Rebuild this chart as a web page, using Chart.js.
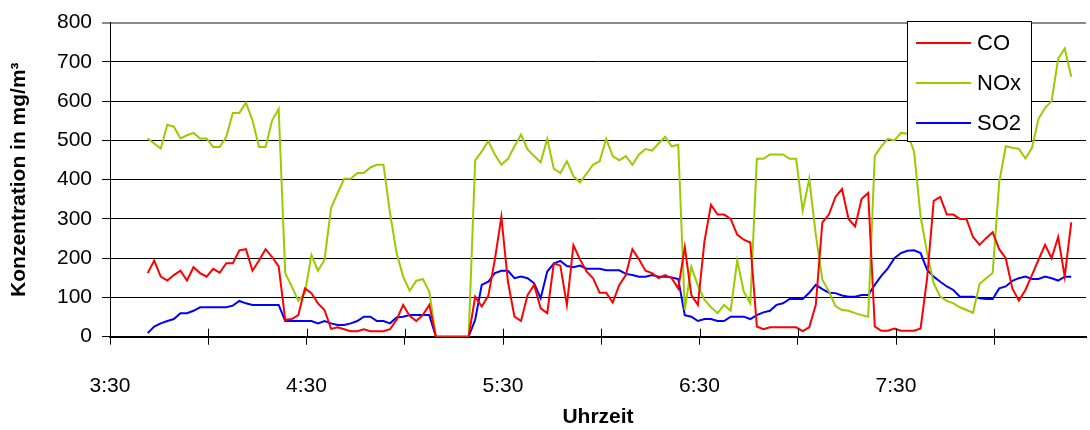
<!DOCTYPE html>
<html>
<head>
<meta charset="utf-8">
<script src="https://cdn.jsdelivr.net/npm/chart.js@4.4.0/dist/chart.umd.min.js"></script>
<style>
  html, body { margin: 0; padding: 0; background: #fff; }
</style>
</head>
<body>
<canvas id="chart" width="1090" height="430"></canvas>
<script>
// Messwerte alle 2 Minuten; x in Minuten ab 3:30
const startMinute = 11.5;
const stepMinute = 2;
const seriesNames = ['CO', 'NOx', 'SO2'];

const coValues = [
  162,194,153,143,157,168,143,177,162,153,
  173,163,187,187,220,223,168,194,223,203,
  179,43,45,55,123,111,85,68,20,24,
  19,14,14,19,14,14,14,19,43,81,
  53,40,55,81,0,0,0,0,0,0,
  102,77,104,196,305,140,51,40,106,132,
  72,60,187,181,81,233,197,166,149,112,
  112,87,132,157,223,197,168,162,149,157,
  149,123,228,106,81,243,336,311,311,300,
  260,247,240,26,19,24,24,24,24,24,
  14,24,81,291,311,356,376,300,281,351,
  366,26,15,15,21,15,15,15,21,150,
  346,356,311,311,300,300,254,234,251,266,
  223,200,123,92,119,157,196,234,200,254,
  153,291
];

const noxValues = [
  505,492,479,540,535,505,513,519,505,505,
  483,483,509,570,570,596,551,483,483,551,
  580,162,128,91,111,208,168,196,328,366,
  402,402,417,417,431,438,438,315,213,153,
  117,142,147,115,0,0,0,0,0,0,
  449,472,498,464,438,453,485,515,477,460,
  444,504,428,417,447,409,393,415,438,447,
  504,460,449,460,438,464,478,474,492,509,
  485,489,68,178,130,94,75,60,81,66,
  194,115,85,453,453,464,464,464,453,453,
  321,402,260,145,115,78,68,66,60,55,
  51,460,485,504,500,519,517,472,306,213,
  136,102,91,85,75,68,61,134,149,162,
  393,485,481,479,454,481,555,583,600,708,
  734,662
];

const so2Values = [
  9,26,34,40,45,60,60,66,75,75,
  75,75,75,79,91,85,81,81,81,81,
  81,40,40,40,40,40,34,40,34,30,
  30,34,40,51,51,40,40,34,49,51,
  55,55,55,55,0,0,0,0,0,0,
  43,132,140,162,168,168,149,153,149,136,
  98,166,186,193,180,177,181,173,173,173,
  169,169,169,160,157,153,153,157,153,153,
  151,147,55,51,40,45,45,40,40,51,
  51,51,45,55,62,66,81,85,96,96,
  96,112,132,121,112,111,105,102,102,106,
  106,132,155,174,200,213,219,220,213,170,
  153,140,128,119,102,102,102,98,96,96,
  123,128,142,149,153,147,147,153,149,143,
  153,153
];

const seriesColors = ['#FF0000', '#99CC00', '#0000FF'];
const FONT = '"Liberation Sans", Arial, sans-serif';

const minutes = coValues.map((_, i) => startMinute + i * stepMinute);
const toPoints = values => values.map((v, i) => ({ x: minutes[i], y: v }));

function clockLabel(m) {
  const total = 210 + m;
  const h = Math.floor(total / 60);
  const mm = total % 60;
  return h + ':' + String(mm).padStart(2, '0');
}

// Tick-Striche der x-Achse auch nach innen
const crossTicks = {
  id: 'crossTicks',
  afterDatasetsDraw(chart) {
    const xs = chart.scales.x;
    const bottom = chart.chartArea.bottom;
    const ctx = chart.ctx;
    ctx.save();
    ctx.strokeStyle = '#000';
    ctx.lineWidth = 1;
    xs.ticks.forEach(t => {
      const px = Math.round(xs.getPixelForValue(t.value)) + 0.5;
      ctx.beginPath();
      ctx.moveTo(px, bottom - 8);
      ctx.lineTo(px, bottom);
      ctx.stroke();
    });
    ctx.restore();
  }
};

// Legende im Kasten oben rechts
const boxLegend = {
  id: 'boxLegend',
  afterDraw(chart) {
    const ctx = chart.ctx;
    const left = 907, top = 21, w = 124, h = 120;
    ctx.save();
    ctx.fillStyle = '#fff';
    ctx.fillRect(left, top, w, h);
    ctx.strokeStyle = '#000';
    ctx.lineWidth = 1;
    ctx.strokeRect(left + 0.5, top + 0.5, w, h);
    ctx.font = '22px ' + FONT;
    ctx.textBaseline = 'middle';
    chart.data.datasets.forEach((ds, i) => {
      const y = top + 22 + i * 40;
      ctx.strokeStyle = ds.borderColor;
      ctx.lineWidth = 2;
      ctx.beginPath();
      ctx.moveTo(left + 9, y);
      ctx.lineTo(left + 64, y);
      ctx.stroke();
      ctx.fillStyle = '#000';
      ctx.fillText(ds.label, left + 70, y + 1);
    });
    ctx.restore();
  }
};

const ctx = document.getElementById('chart').getContext('2d');
new Chart(ctx, {
  type: 'line',
  data: {
    datasets: [coValues, noxValues, so2Values].map((vals, i) => ({
      label: seriesNames[i],
      data: toPoints(vals),
      borderColor: seriesColors[i],
      backgroundColor: seriesColors[i],
      borderWidth: 2,
      pointRadius: 0,
      tension: 0,
      fill: false
    }))
  },
  options: {
    responsive: false,
    animation: false,
    layout: { padding: { top: 22, right: 4, left: 4, bottom: 0 } },
    plugins: {
      legend: { display: false },
      tooltip: { enabled: false }
    },
    scales: {
      x: {
        type: 'linear',
        min: 0,
        max: 298,
        afterFit: s => { s.height = 93.3; },
        ticks: {
          stepSize: 30,
          includeBounds: false,
          autoSkip: false,
          maxRotation: 0,
          padding: 29,
          color: '#000',
          font: { family: FONT, size: 21 },
          callback: v => (v % 60 === 0 ? clockLabel(v) : '')
        },
        grid: { drawOnChartArea: false, drawTicks: true, tickLength: 8, color: '#000' },
        border: { color: '#000', width: 2 },
        title: {
          display: true,
          text: 'Uhrzeit',
          color: '#000',
          font: { family: FONT, size: 21, weight: 'bold' },
          padding: { top: 0, bottom: 0 }
        }
      },
      y: {
        min: 0,
        max: 800,
        afterFit: s => { s.width = 106; },
        ticks: {
          stepSize: 100,
          padding: 10,
          color: '#000',
          font: { family: FONT, size: 21 }
        },
        grid: {
          color: c => (c.tick && c.tick.value === 800 ? '#8a8a8a' : '#000'),
          lineWidth: c => (c.tick && c.tick.value === 800 ? 2 : 1),
          tickLength: 8
        },
        border: { color: '#000', width: 1 },
        title: {
          display: true,
          text: 'Konzentration in mg/m³',
          color: '#000',
          font: { family: FONT, size: 21, weight: 'bold' },
          padding: { top: 3, bottom: 0 }
        }
      }
    }
  },
  plugins: [crossTicks, boxLegend]
});
</script>
</body>
</html>
